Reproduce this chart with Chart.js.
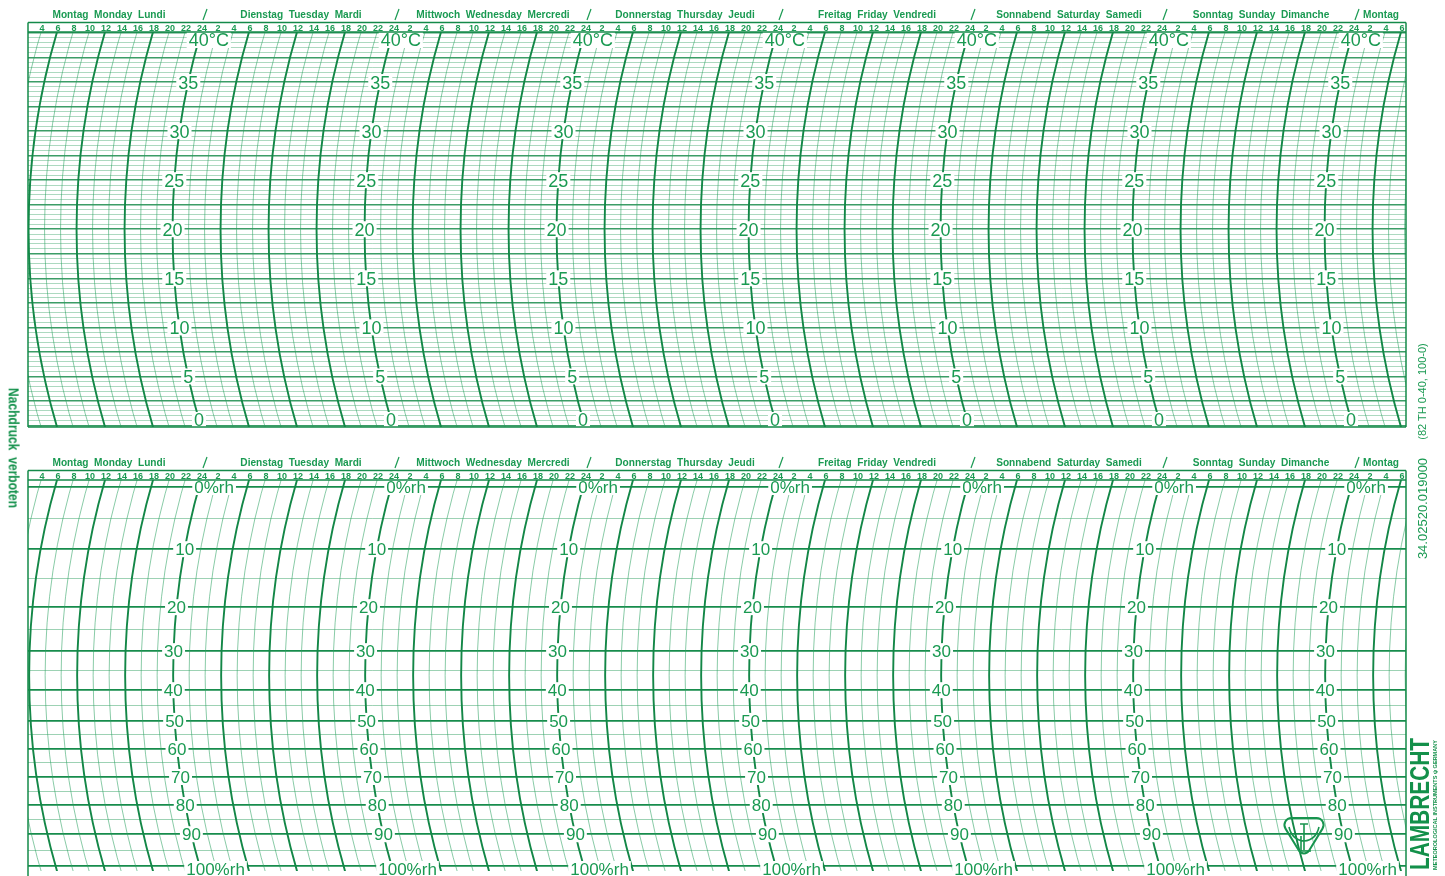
<!DOCTYPE html>
<html><head><meta charset="utf-8">
<title>Thermohygrograph chart paper</title>
<script src="https://cdn.jsdelivr.net/npm/chart.js@4.4.1/dist/chart.umd.min.js"></script>
<style>
html,body{margin:0;padding:0;background:#fff;}
body{width:1445px;height:876px;position:relative;overflow:hidden;font-family:"Liberation Sans",Arial,sans-serif;}
canvas{position:absolute;left:0;display:block}
#c1{top:0}
#c2{top:440px}
.side{position:absolute;white-space:nowrap;color:#1a9a52;line-height:1;transform-origin:center center;}
</style></head><body>
<canvas id="c1" width="1445" height="440"></canvas>
<canvas id="c2" width="1445" height="436"></canvas>
<div class="side" id="sNach" style="font-weight:bold;font-size:14px;color:#12904a">Nachdruck&nbsp;&nbsp;verboten</div>
<div class="side" id="sCode1" style="font-size:11px">(82 TH 0-40, 100-0)</div>
<div class="side" id="sCode2" style="font-size:13px">34.02520.019000</div>
<div class="side" id="sBrand" style="font-size:28px;font-weight:bold;color:#13904a">LAMBRECHT</div>
<div class="side" id="sBrand2" style="font-size:6px;font-weight:bold;color:#13904a">METEOROLOGICAL INSTRUMENTS ψ GERMANY</div>
<script>
// ---------------- data ----------------
const days = ['Montag  Monday  Lundi','Dienstag  Tuesday  Mardi','Mittwoch  Wednesday  Mercredi','Donnerstag  Thursday  Jeudi','Freitag  Friday  Vendredi','Sonnabend  Saturday  Samedi','Sonntag  Sunday  Dimanche'];
const nextDayLabel = 'Montag';
const hourLabels = [2,4,6,8,10,12,14,16,18,20,22,24];
const timeRange = [2.375, 174.625];            // hours after Monday 0:00 visible on the sheet
const tempTicks = [0,5,10,15,20,25,30,35,40];
const tempUnit = '°C';
const tempRange = [-0.15, 40.1];
const humTicks = [0,10,20,30,40,50,60,70,80,90,100];
const humUnit = '%rh';
const humDeflection = [0,16.4,31.7,43.3,53.6,61.7,69.1,76.5,83.9,91.6,100]; // printed (non-linear) hygrometer scale
const deflRange = [-1.85, 101.3];

// ---------------- styles ----------------
const TEXT = '#1a9a52';
const BOLD_ARC = '#138747';
const THIN_ARC = 'rgba(40,160,95,0.55)';
const FRAME = '#148a4a';
const ARC_R = 700;

function humToDefl(h){
  for(let i=0;i<humTicks.length-1;i++){
    if(h>=humTicks[i] && h<=humTicks[i+1]){
      const t=(h-humTicks[i])/(humTicks[i+1]-humTicks[i]);
      return humDeflection[i]+t*(humDeflection[i+1]-humDeflection[i]);
    }
  }
  return h<0?humDeflection[0]:humDeflection[humDeflection.length-1];
}
function arcGeom(area){
  const yc=(area.top+area.bottom)/2, half=(area.bottom-area.top)/2;
  const s=ARC_R-Math.sqrt(ARC_R*ARC_R-half*half);
  return {yc,half,s};
}
function arcX(xTop,y,area){
  const g=arcGeom(area);
  const dy=y-g.yc;
  return xTop-g.s+ARC_R-Math.sqrt(ARC_R*ARC_R-dy*dy);
}
function allHours(){
  const out=[];
  for(let d=0; d<=7; d++) for(const l of hourLabels) out.push({h:24*d+l,label:l});
  return out;
}

const paperPlugin = {
  id:'paper',
  beforeDatasetsDraw(chart){
    const {ctx,chartArea:a,scales:{x}}=chart;
    const g=arcGeom(a);
    const ang=Math.asin(Math.min(1,(g.half+12)/ARC_R));
    ctx.save();
    ctx.beginPath(); ctx.rect(a.left,a.top,a.right-a.left,a.bottom-a.top); ctx.clip();
    const hrs=allHours();
    for(const pass of [0,1]){
      for(const {h,label} of hrs){
        const bold=label%6===0;
        if((pass===1)!==bold) continue;
        const xTop=x.getPixelForValue(h);
        ctx.beginPath();
        ctx.arc(xTop-g.s+ARC_R,g.yc,ARC_R,Math.PI-ang,Math.PI+ang);
        ctx.lineWidth=bold?1.9:1;
        ctx.strokeStyle=bold?BOLD_ARC:THIN_ARC;
        ctx.stroke();
      }
    }
    ctx.restore();
  },
  afterDraw(chart,args,opts){
    const {ctx,chartArea:a,scales:{x,y}}=chart;
    const isTemp=opts.kind==='temp';
    // scale labels along the midnight arcs
    const fs=isTemp?18:17;
    ctx.save();
    ctx.font=fs+'px "Liberation Sans", Arial, sans-serif';
    ctx.textBaseline='alphabetic';
    ctx.textAlign='left';
    for(let d=1; d<=7; d++){
      const xTop=x.getPixelForValue(24*d);
      const ticks=isTemp?tempTicks:humTicks;
      ticks.forEach((v,i)=>{
        let py=y.getPixelForValue(isTemp?v:humToDefl(v));
        if(isTemp) py=Math.min(Math.max(py,a.top+8),a.bottom-7);
        else { py=Math.max(py,a.top+7); if(i===ticks.length-1) py=a.bottom-2; }
        const px=arcX(xTop,py,a);
        const main=String(v);
        let unit='';
        if(isTemp && i===ticks.length-1) unit=tempUnit;
        if(!isTemp && (i===0||i===ticks.length-1)) unit=humUnit;
        const wm=ctx.measureText(main).width, wu=unit?ctx.measureText(unit).width:0;
        const x0=px-wm/2;
        ctx.fillStyle='#fff';
        ctx.fillRect(x0-2,py-8,wm+wu+4,16);
        ctx.fillStyle=TEXT;
        ctx.fillText(main+unit,x0,py+0.36*fs);
      });
    }
    ctx.restore();

    // header & frame
    ctx.save();
    const hTop=a.top-9.5;
    ctx.strokeStyle=FRAME; ctx.lineWidth=1.5;
    ctx.beginPath();
    ctx.moveTo(a.left,hTop); ctx.lineTo(a.right,hTop);
    ctx.moveTo(a.left,a.top); ctx.lineTo(a.right,a.top);
    ctx.moveTo(a.left,hTop); ctx.lineTo(a.left,isTemp?a.bottom:chart.height);
    ctx.moveTo(a.right,hTop); ctx.lineTo(a.right,isTemp?a.bottom:chart.height);
    if(isTemp){ctx.moveTo(a.left,a.bottom); ctx.lineTo(a.right,a.bottom);}
    ctx.stroke();
    // hour labels
    ctx.fillStyle=TEXT;
    ctx.font='bold 9.5px "Liberation Sans", Arial, sans-serif';
    ctx.textAlign='center'; ctx.textBaseline='alphabetic';
    for(const {h,label} of allHours()){
      if(h<timeRange[0]+0.8||h>timeRange[1]+0.2) continue;
      const px=x.getPixelForValue(h)+1;
      ctx.save(); ctx.translate(px,a.top-1); ctx.scale(0.95,1);
      ctx.fillText(String(label),0,0); ctx.restore();
    }
    // day names
    ctx.font='bold 11.5px "Liberation Sans", Arial, sans-serif';
    days.forEach((name,d)=>{
      const px=x.getPixelForValue(24*d+12)+4;
      ctx.save(); ctx.translate(px,a.top-14); ctx.scale(0.88,1);
      ctx.fillText(name,0,0); ctx.restore();
    });
    // slashes between days
    ctx.strokeStyle=TEXT; ctx.lineWidth=1.2;
    for(let d=1; d<=7; d++){
      const px=x.getPixelForValue(24*d)+4;
      ctx.beginPath(); ctx.moveTo(px+2,a.top-23); ctx.lineTo(px-2,a.top-12); ctx.stroke();
    }
    {
      const px=x.getPixelForValue(24*7)+10;
      ctx.textAlign='left';
      ctx.save(); ctx.translate(px,a.top-14); ctx.scale(0.88,1);
      ctx.fillText(nextDayLabel,0,0); ctx.restore();
    }
    // maker's emblem (bottom sheet only)
    if(!isTemp){
      const cx=a.right-102, top=a.bottom-53;
      ctx.strokeStyle='#17944e'; ctx.lineWidth=2;
      ctx.beginPath();
      const p1=[cx-25,top],p2=[cx+25,top],p3=[cx,top+41];
      ctx.moveTo(cx,top);
      ctx.arcTo(p2[0],p2[1],p3[0],p3[1],7);
      ctx.arcTo(p3[0],p3[1],p1[0],p1[1],6);
      ctx.arcTo(p1[0],p1[1],p2[0],p2[1],7);
      ctx.closePath(); ctx.stroke();
      ctx.lineWidth=1.6;
      ctx.beginPath();
      ctx.moveTo(cx-4,top+6); ctx.lineTo(cx+4,top+6);
      ctx.moveTo(cx,top+6); ctx.lineTo(cx,top+32);
      ctx.moveTo(cx-15,top+9); ctx.quadraticCurveTo(cx-12,top+22,cx,top+23);
      ctx.moveTo(cx+15,top+9); ctx.quadraticCurveTo(cx+12,top+22,cx,top+23);
      ctx.moveTo(cx-3,top+18); ctx.lineTo(cx-3,top+33); ctx.lineTo(cx+7,top+33);
      ctx.stroke();
    }
    ctx.restore();
  }
};

function makeChart(id,kind,padding){
  const isTemp=kind==='temp';
  return new Chart(document.getElementById(id),{
    type:'scatter',
    data:{datasets:[]},
    options:{
      responsive:false, animation:false, devicePixelRatio:1,
      layout:{padding},
      plugins:{legend:{display:false},tooltip:{enabled:false},paper:{kind}},
      scales:{
        x:{type:'linear',display:false,min:timeRange[0],max:timeRange[1]},
        y:{
          type:'linear',display:true,reverse:!isTemp,
          min:isTemp?tempRange[0]:deflRange[0], max:isTemp?tempRange[1]:deflRange[1],
          ticks:{display:false},
          border:{display:false},
          afterBuildTicks(scale){
            if(isTemp){
              const t=[]; for(let i=0;i<=80;i++){const v=i*0.5; t.push({value:v,bold:i%5===0});}
              scale.ticks=t;
            }else{
              const t=[]; for(let h=0;h<=100;h+=5){t.push({value:humToDefl(h),bold:h%10===0});}
              scale.ticks=t;
            }
          },
          grid:{
            drawTicks:false,
            color:c=>c.tick&&c.tick.bold?(isTemp?'rgba(25,140,75,0.85)':'#178c4c'):(isTemp?'rgba(60,165,105,0.42)':'rgba(60,165,105,0.5)'),
            lineWidth:c=>c.tick&&c.tick.bold?(isTemp?1.6:1.8):1
          }
        }
      }
    },
    plugins:[paperPlugin]
  });
}
makeChart('c1','temp',{left:28,right:39,top:32,bottom:13});
makeChart('c2','hum',{left:28,right:39,top:40,bottom:5});

// rotated side texts
function place(id,cx,cy,rot,len){
  const el=document.getElementById(id);
  const w=el.offsetWidth,h=el.offsetHeight;
  el.style.left=(cx-w/2)+'px'; el.style.top=(cy-h/2)+'px';
  const sx=len?len/w:1;
  el.style.transform='rotate('+rot+'deg) scale('+sx+',1)';
}
place('sNach',13,448,90,120);
place('sCode1',1422,391,-90,96);
place('sCode2',1422,508,-90,101);
place('sBrand',1419,804,-90,132);
place('sBrand2',1435,805,-90,130);
</script>
</body></html>
